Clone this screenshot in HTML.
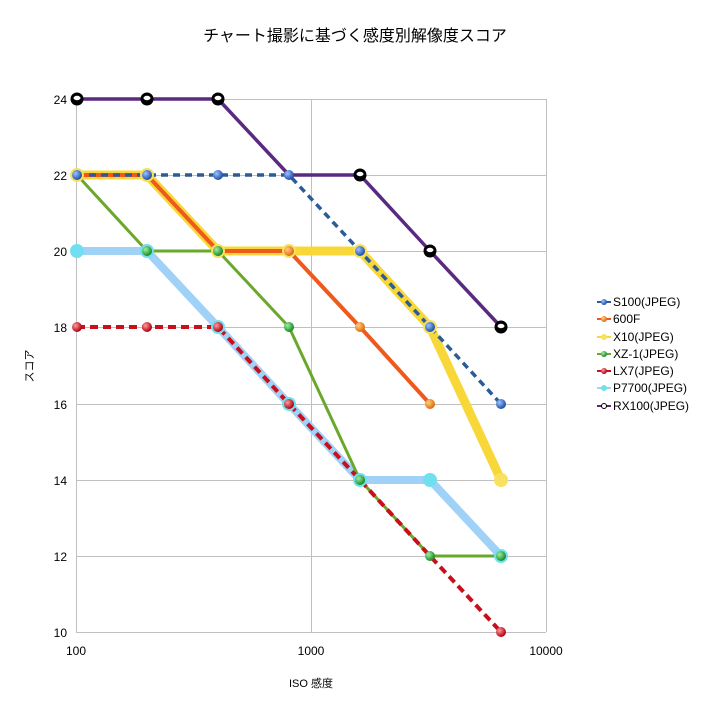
<!DOCTYPE html><html><head><meta charset="utf-8"><style>body{margin:0;background:#fff}svg{display:block}text{font-family:"Liberation Sans","Noto Sans CJK JP",sans-serif}</style></head><body>
<svg width="711" height="704" xmlns="http://www.w3.org/2000/svg">
<defs>
<radialGradient id="gb" cx="35%" cy="35%" r="65%"><stop offset="0" stop-color="#9cc4ff"/><stop offset="1" stop-color="#1f4fa8"/></radialGradient>
<radialGradient id="go" cx="35%" cy="35%" r="65%"><stop offset="0" stop-color="#ffd080"/><stop offset="1" stop-color="#e06a10"/></radialGradient>
<radialGradient id="gg" cx="35%" cy="35%" r="65%"><stop offset="0" stop-color="#9ef09e"/><stop offset="1" stop-color="#1a8a2a"/></radialGradient>
<radialGradient id="gr" cx="35%" cy="35%" r="65%"><stop offset="0" stop-color="#ff9a9a"/><stop offset="1" stop-color="#b00010"/></radialGradient>
</defs>
<text x="355" y="41" font-size="16" text-anchor="middle" fill="#000">チャート撮影に基づく感度別解像度スコア</text>
<g stroke="#c0c0c0" stroke-width="1">
<line x1="76" y1="99.5" x2="546" y2="99.5"/><line x1="76" y1="175.5" x2="546" y2="175.5"/><line x1="76" y1="251.5" x2="546" y2="251.5"/><line x1="76" y1="327.5" x2="546" y2="327.5"/><line x1="76" y1="404.5" x2="546" y2="404.5"/><line x1="76" y1="480.5" x2="546" y2="480.5"/><line x1="76" y1="556.5" x2="546" y2="556.5"/><line x1="76" y1="632.5" x2="546" y2="632.5"/>
<line x1="76.5" y1="99" x2="76.5" y2="632"/><line x1="311.5" y1="99" x2="311.5" y2="632"/><line x1="546.5" y1="99" x2="546.5" y2="632"/>
</g>
<g font-size="12" fill="#000" text-anchor="end">
<text x="67" y="104">24</text><text x="67" y="180">22</text><text x="67" y="256">20</text><text x="67" y="332">18</text><text x="67" y="409">16</text><text x="67" y="485">14</text><text x="67" y="561">12</text><text x="67" y="637">10</text>
</g>
<g font-size="12" fill="#000" text-anchor="middle">
<text x="76" y="655">100</text><text x="311" y="655">1000</text><text x="546" y="655">10000</text>
<text x="311" y="687" font-size="11">ISO 感度</text>
</g>
<text x="33" y="366" font-size="11" transform="rotate(-90 33 366)" text-anchor="middle">スコア</text>
<g fill="none" stroke-linejoin="round">
<polyline points="77,175 147,175 218,251 289,251 360,251 430,327 501,480" stroke="#f8d838" stroke-width="9"/>
<polyline points="77,175 147,175 218,251 289,251 360,327 430,404" stroke="#ef5a1c" stroke-width="4"/>
<polyline points="77,251 147,251 218,327 289,404 360,480 430,480 501,556" stroke="#a0d2f8" stroke-width="8"/>
<polyline points="77,175 147,251 218,251 289,327 360,480 430,556 501,556" stroke="#6aa82c" stroke-width="3"/>
<polyline points="77,327 147,327 218,327 289,404 360,480 430,556 501,632" stroke="#c8101c" stroke-width="4" stroke-dasharray="8,5"/>
<polyline points="77,175 147,175 218,175 289,175 360,251 430,327 501,404" stroke="#2a5c98" stroke-width="3.5" stroke-dasharray="7,5"/>
<polyline points="77,99 147,99 218,99 289,175 360,175 430,251 501,327" stroke="#5a2a80" stroke-width="3.5"/>
</g>
<g>
<g fill="#f8e060"><circle cx="77" cy="175" r="7"/><circle cx="147" cy="175" r="7"/><circle cx="218" cy="251" r="7"/><circle cx="289" cy="251" r="7"/><circle cx="360" cy="251" r="7"/><circle cx="430" cy="327" r="7"/><circle cx="501" cy="480" r="7"/></g>
<g fill="url(#go)"><circle cx="218" cy="251" r="5"/><circle cx="289" cy="251" r="5"/><circle cx="360" cy="327" r="5"/><circle cx="430" cy="404" r="5"/></g>
<g fill="#70e0f0"><circle cx="77" cy="251" r="7"/><circle cx="147" cy="251" r="7"/><circle cx="218" cy="327" r="7"/><circle cx="289" cy="404" r="7"/><circle cx="360" cy="480" r="7"/><circle cx="430" cy="480" r="7"/><circle cx="501" cy="556" r="7"/></g>
<g fill="url(#gg)"><circle cx="147" cy="251" r="5"/><circle cx="218" cy="251" r="5"/><circle cx="289" cy="327" r="5"/><circle cx="360" cy="480" r="5"/><circle cx="430" cy="556" r="5"/><circle cx="501" cy="556" r="5"/></g>
<g fill="url(#gr)"><circle cx="77" cy="327" r="5"/><circle cx="147" cy="327" r="5"/><circle cx="218" cy="327" r="5"/><circle cx="289" cy="404" r="5"/><circle cx="501" cy="632" r="5"/></g>
<g fill="url(#gb)"><circle cx="77" cy="175" r="5"/><circle cx="147" cy="175" r="5"/><circle cx="218" cy="175" r="5"/><circle cx="289" cy="175" r="5"/><circle cx="360" cy="251" r="5"/><circle cx="430" cy="327" r="5"/><circle cx="501" cy="404" r="5"/></g>
<g fill="#000"><circle cx="77" cy="99" r="6.5"/><circle cx="147" cy="99" r="6.5"/><circle cx="218" cy="99" r="6.5"/><circle cx="360" cy="175" r="6.5"/><circle cx="430" cy="251" r="6.5"/><circle cx="501" cy="327" r="6.5"/></g>
<g fill="#fff"><ellipse cx="77" cy="98" rx="3.5" ry="2.2"/><ellipse cx="147" cy="98" rx="3.5" ry="2.2"/><ellipse cx="218" cy="98" rx="3.5" ry="2.2"/><ellipse cx="360" cy="174" rx="3.5" ry="2.2"/><ellipse cx="430" cy="250" rx="3.5" ry="2.2"/><ellipse cx="501" cy="326" rx="3.5" ry="2.2"/></g>
</g>
<g font-size="12" fill="#000">
<line x1="597" y1="302" x2="611" y2="302" stroke="#2a5c98" stroke-width="2"/><circle cx="604" cy="302" r="3" fill="url(#gb)"/><text x="613" y="306">S100(JPEG)</text>
<line x1="597" y1="319" x2="611" y2="319" stroke="#ef5a1c" stroke-width="2"/><circle cx="604" cy="319" r="3" fill="url(#go)"/><text x="613" y="323">600F</text>
<line x1="597" y1="337" x2="611" y2="337" stroke="#f8d838" stroke-width="2"/><circle cx="604" cy="337" r="3" fill="#f8e060"/><text x="613" y="341">X10(JPEG)</text>
<line x1="597" y1="354" x2="611" y2="354" stroke="#6aa82c" stroke-width="2"/><circle cx="604" cy="354" r="3" fill="url(#gg)"/><text x="613" y="358">XZ-1(JPEG)</text>
<line x1="597" y1="371" x2="611" y2="371" stroke="#c8101c" stroke-width="2"/><circle cx="604" cy="371" r="3" fill="url(#gr)"/><text x="613" y="375">LX7(JPEG)</text>
<line x1="597" y1="388" x2="611" y2="388" stroke="#a0d2f8" stroke-width="2"/><circle cx="604" cy="388" r="3" fill="#70e0f0"/><text x="613" y="392">P7700(JPEG)</text>
<line x1="597" y1="406" x2="611" y2="406" stroke="#5a2a80" stroke-width="2"/><circle cx="604" cy="406" r="2.5" fill="#fff" stroke="#000" stroke-width="1"/><text x="613" y="410">RX100(JPEG)</text>
</g>
</svg>
</body></html>
